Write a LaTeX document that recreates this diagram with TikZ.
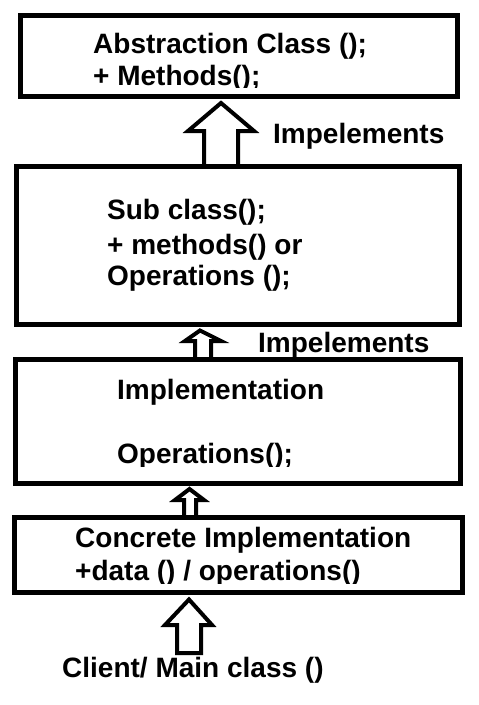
\documentclass[tikz,border=0pt]{standalone}
\usepackage{fontspec}
\setmainfont{Liberation Sans}
\begin{document}
\begin{tikzpicture}[x=1pt,y=-1pt,
  box/.style={draw,line width=5pt,inner sep=0pt},
  lbl/.style={anchor=base west,inner sep=0pt,font=\bfseries\fontsize{28}{33}\selectfont},
  harrow/.style={draw,line width=4pt,line join=miter,miter limit=10,fill=white}]
\useasboundingbox (0,0) rectangle (479,705);
% hollow block arrows
\draw[harrow] (204,166.5) -- (204,131) -- (188,131) -- (221,103) -- (254,131) -- (238,131) -- (238,166.5);
\draw[harrow] (195,359.5) -- (195,341) -- (185,341) -- (200,330.5) -- (221,341) -- (211,341) -- (211,359.5);
\draw[harrow] (184,517.5) -- (184,500) -- (175,500) -- (189.5,489) -- (204,500) -- (196,500) -- (196,517.5);
\draw[harrow] (177,653) -- (177,625) -- (165,625) -- (189,599.5) -- (212,625) -- (201,625) -- (201,653) -- cycle;
% boxes
\node[box,minimum width=437.5pt,minimum height=81pt] (b1) at (238.75,56) {};
\node[box,minimum width=443pt,minimum height=157.5pt] (b2) at (238,245.25) {};
\node[box,minimum width=445pt,minimum height=124pt] (b3) at (238,421.5) {};
\node[box,minimum width=448pt,minimum height=75pt] (b4) at (238.5,555) {};
% texts
\node[lbl] (t1a) at (93,53) {Abstraction Class ();};
\begin{scope}
\clip (0,0) rectangle (479,87);
\node[lbl] (t1b) at (93,85) {+ Methods();};
\end{scope}
\node[lbl] (l1) at (273,143) {Impelements};
\node[lbl] (t2a) at (107,219) {Sub class();};
\node[lbl] (t2b) at (107,254) {+ methods() or};
\begin{scope}
\clip (0,200) rectangle (479,290);
\node[lbl] (t2c) at (107,285) {Operations ();};
\end{scope}
\node[lbl] (l2) at (258,352) {Impelements};
\node[lbl] (t3a) at (117,399) {Implementation};
\begin{scope}
\clip (0,400) rectangle (479,466);
\node[lbl] (t3b) at (117,463) {Operations();};
\end{scope}
\node[lbl] (t4a) at (75,547) {Concrete Implementation};
\begin{scope}
\clip (0,550) rectangle (479,583);
\node[lbl] (t4b) at (75,580) {+data () / operations()};
\end{scope}
\node[lbl] (t5) at (62,677) {Client/ Main class ()};
\end{tikzpicture}
\end{document}
